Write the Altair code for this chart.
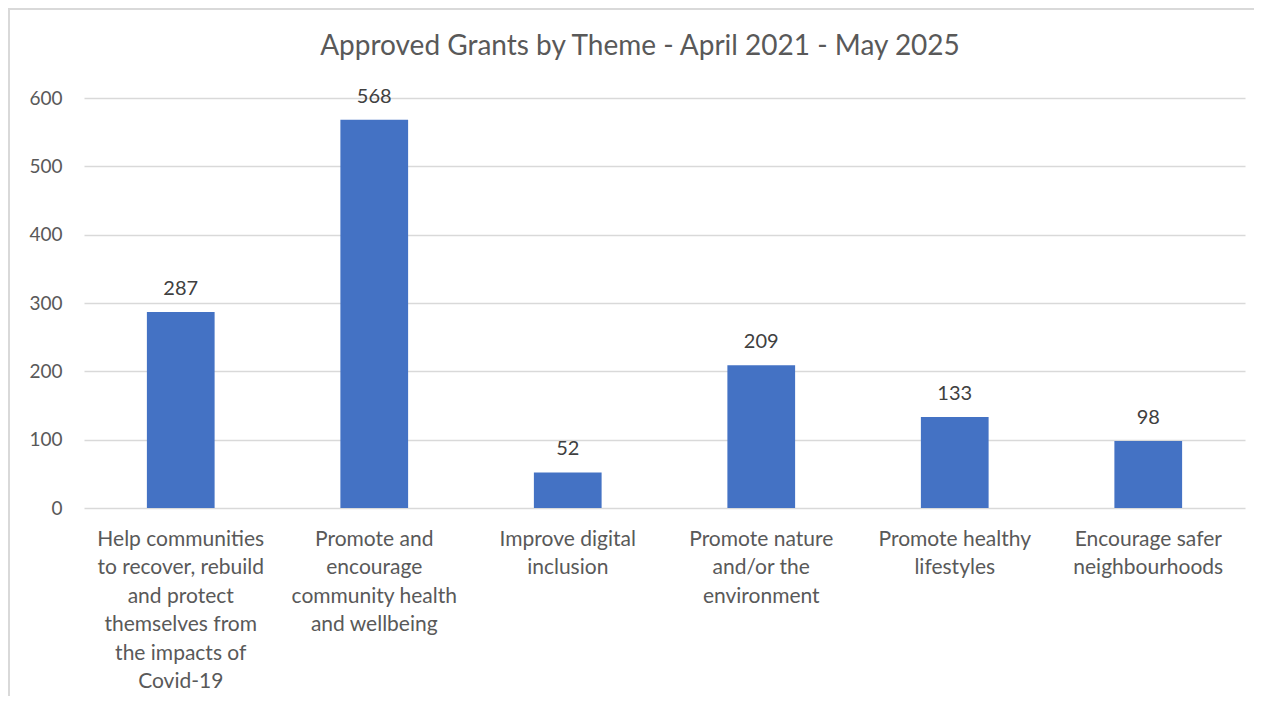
import altair as alt
import pandas as pd

themes = [
    "Help communities|to recover, rebuild|and protect|themselves from|the impacts of|Covid-19",
    "Promote and|encourage|community health|and wellbeing",
    "Improve digital|inclusion",
    "Promote nature|and/or the|environment",
    "Promote healthy|lifestyles",
    "Encourage safer|neighbourhoods",
]
grants = [287, 568, 52, 209, 133, 98]
title_text = ["Approved Grants by Theme - April 2021 - May 2025"]

df = pd.DataFrame({"theme": themes, "grants": grants})
tdf = pd.DataFrame({"title": title_text})

FONT = "Lato"
GREY = "#595959"

x = alt.X(
    "theme:N",
    sort=None,
    title=None,
    scale=alt.Scale(paddingInner=0.65, paddingOuter=0.325),
    axis=alt.Axis(
        labelExpr="split(datum.label, '|')",
        labelAngle=0,
        labelFont=FONT,
        labelFontSize=21,
        labelColor=GREY,
        labelLineHeight=28.5,
        labelPadding=20,
        labelBaseline="top",
        ticks=False,
        domain=False,
        labelLimit=300,
    ),
)
y = alt.Y(
    "grants:Q",
    title=None,
    scale=alt.Scale(domain=[0, 600]),
    axis=alt.Axis(
        values=[0, 100, 200, 300, 400, 500, 600],
        labelFont=FONT,
        labelFontSize=19,
        labelColor=GREY,
        labelPadding=22,
        ticks=False,
        domain=False,
        gridColor="#d9d9d9",
        gridWidth=1.5,
    ),
)

frame = alt.Chart(df).mark_rect(fill=None, stroke="#d9d9d9", strokeWidth=1.5).encode(
    x=alt.value(-75), x2=alt.value(1174), y=alt.value(-89), y2=alt.value(620)
)

title = alt.Chart(tdf).mark_text(
    font=FONT, fontSize=28, color=GREY, baseline="middle", align="center"
).encode(x=alt.value(556), y=alt.value(-51), text="title:N")

bars = alt.Chart(df).mark_bar(color="#4472C4").encode(x=x, y=y)
labels = alt.Chart(df).mark_text(
    baseline="bottom", dy=-13, font=FONT, fontSize=20, color="#404040"
).encode(x=x, y=y, text="grants:Q")

chart = (
    alt.layer(frame, title, bars, labels)
    .properties(
        width=1161,
        height=410,
        padding={"left": 76, "top": 90, "right": 9, "bottom": 188},
        autosize=alt.AutoSizeParams(type="none"),
    )
    .configure_view(stroke=None)
)

chart.save("out.html", embed_options={"renderer": "svg", "actions": False})
